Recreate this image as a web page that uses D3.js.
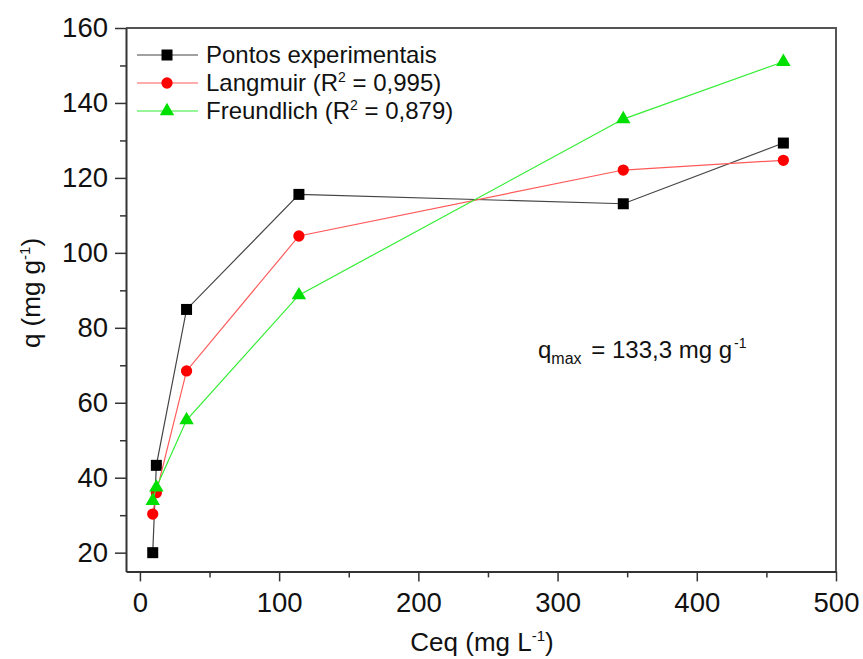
<!DOCTYPE html>
<html>
<head>
<meta charset="utf-8">
<script src="https://cdn.jsdelivr.net/npm/d3@7"></script>
<style>
  html, body { margin: 0; padding: 0; background: #fff; }
  svg { display: block; font-family: "Liberation Sans", Arial, sans-serif; }
</style>
</head>
<body>
<svg id="chart" width="863" height="659"></svg>
<script>
// Adsorption isotherm: experimental points and Langmuir / Freundlich fits
const ceq        = [9.2, 11.8, 33.5, 114.2, 347.2, 462.2];
const qExp       = [20.0, 43.3, 84.9, 115.6, 113.1, 129.3];
const qLangmuir  = [30.3, 36.0, 68.5, 104.5, 122.1, 124.7];
const qFreund    = [33.8, 37.4, 55.4, 88.7, 135.7, 151.0];

const xMajor = [0, 100, 200, 300, 400, 500];
const xMinor = [50, 150, 250, 350, 450];
const yMajor = [20, 40, 60, 80, 100, 120, 140, 160];
const yMinor = [30, 50, 70, 90, 110, 130, 150];

const seriesNames = ["Pontos experimentais", "Langmuir", "Freundlich"];
const r2Labels = ["0,995", "0,879"];

const svg = d3.select("#chart");
const plotLeft = 126, plotRight = 836, plotTop = 28, plotBottom = 571.4;

const x = d3.scaleLinear().domain([-10, 500]).range([plotLeft, plotRight]);
const y = d3.scaleLinear().domain([15, 160]).range([plotBottom, plotTop]);

const axisColor = "#333";

// frame: top and right edges
svg.append("path")
  .attr("d", `M${plotLeft},${plotTop}H${plotRight}V${plotBottom}`)
  .attr("fill", "none").attr("stroke", "#555").attr("stroke-width", 2);

// x axis
const gx = svg.append("g").attr("transform", `translate(0,${plotBottom})`);
gx.call(d3.axisBottom(x).tickValues(xMajor).tickSize(10).tickPadding(11).tickSizeOuter(0));
gx.append("g").call(d3.axisBottom(x).tickValues(xMinor).tickSize(6).tickFormat("").tickSizeOuter(0))
  .select(".domain").remove();

// y axis
const gy = svg.append("g").attr("transform", `translate(${plotLeft},0)`);
gy.call(d3.axisLeft(y).tickValues(yMajor).tickSize(11).tickPadding(7).tickSizeOuter(0));
gy.append("g").call(d3.axisLeft(y).tickValues(yMinor).tickSize(6).tickFormat("").tickSizeOuter(0))
  .select(".domain").remove();

svg.selectAll(".domain").attr("stroke", axisColor).attr("stroke-width", 2);
svg.selectAll(".tick line").attr("stroke", axisColor).attr("stroke-width", 1.5);
svg.selectAll(".tick text").attr("fill", "#111").style("font-size", "27.5px")
  .style("font-family", '"Liberation Sans", Arial, sans-serif');

// axis titles
const xTitle = svg.append("text").attr("x", 482).attr("y", 651)
  .attr("text-anchor", "middle").style("font-size", "26px").attr("fill", "#111");
xTitle.append("tspan").text("Ceq (mg L");
xTitle.append("tspan").attr("dy", -10).style("font-size", "15px").text("-1");
xTitle.append("tspan").attr("dy", 10).text(")");

const yTitle = svg.append("text").attr("transform", "translate(40,293) rotate(-90)")
  .attr("text-anchor", "middle").style("font-size", "26px").attr("fill", "#111");
yTitle.append("tspan").text("q (mg g");
yTitle.append("tspan").attr("dy", -10).style("font-size", "15px").text("-1");
yTitle.append("tspan").attr("dy", 10).text(")");

// series
const styles = [
  { values: qExp,      line: "#444",    fill: "#000",    shape: "square" },
  { values: qLangmuir, line: "#ff5a5a", fill: "#ff0000", shape: "circle" },
  { values: qFreund,   line: "#33ee33", fill: "#00e000", shape: "triangle" }
];

function symbolPath(shape) {
  if (shape === "square") return d3.symbol(d3.symbolSquare, 121)();
  if (shape === "circle") return d3.symbol(d3.symbolCircle, 100)();
  return d3.symbol(d3.symbolTriangle, 90)();
}

const line = d3.line().x(d => x(d[0])).y(d => y(d[1]));

styles.forEach(s => {
  const pts = ceq.map((c, i) => [c, s.values[i]]);
  const g = svg.append("g");
  g.append("path").attr("d", line(pts)).attr("fill", "none")
    .attr("stroke", s.line).attr("stroke-width", 1.2);
  g.selectAll("path.mk").data(pts).join("path").attr("class", "mk")
    .attr("d", symbolPath(s.shape))
    .attr("transform", d => `translate(${x(d[0])},${y(d[1])})`)
    .attr("fill", s.fill);
});

// legend
const legendRows = [55, 83, 111];
styles.forEach((s, i) => {
  const g = svg.append("g").attr("transform", `translate(0,${legendRows[i]})`);
  g.append("line").attr("x1", 137).attr("x2", 198).attr("y1", 0).attr("y2", 0)
    .attr("stroke", s.line).attr("stroke-width", 1.2);
  g.append("path").attr("d", symbolPath(s.shape))
    .attr("transform", "translate(167,0)").attr("fill", s.fill);
  const t = g.append("text").attr("x", 206).attr("y", 7.5)
    .style("font-size", "24px").attr("fill", "#111");
  if (i === 0) {
    t.text(seriesNames[0]);
  } else {
    t.append("tspan").text(seriesNames[i] + " (R");
    t.append("tspan").attr("dy", -9).style("font-size", "14px").text("2");
    t.append("tspan").attr("dy", 9).text(" = " + r2Labels[i - 1] + ")");
  }
});

// q max annotation
const qm = svg.append("text").attr("x", 538).attr("y", 358)
  .style("font-size", "24px").attr("fill", "#111");
qm.append("tspan").text("q");
qm.append("tspan").attr("dy", 6).style("font-size", "16px").text("max");
qm.append("tspan").attr("dy", -6).attr("dx", 3).text(" = 133,3 mg g");
qm.append("tspan").attr("dy", -10).attr("dx", 2).style("font-size", "14px").text("-1");
</script>
</body>
</html>
